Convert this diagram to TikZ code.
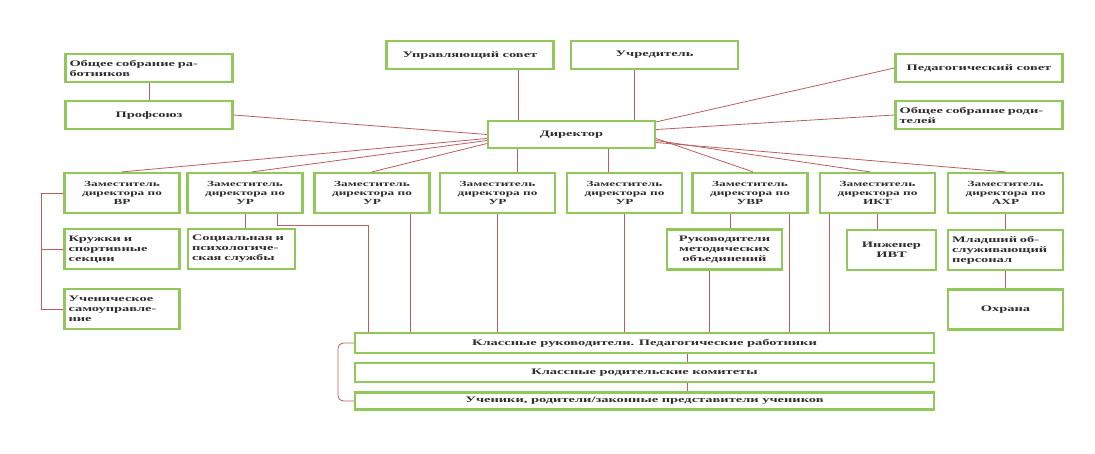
\documentclass[tikz,border=0pt]{standalone}
\usepackage{fontspec}
\newfontfamily\boxfont[FakeStretch=1.7]{Liberation Serif}
\definecolor{boxgreen}{RGB}{146,200,90}
\definecolor{linkred}{RGB}{185,95,95}
\definecolor{textgrey}{RGB}{45,45,45}
\tikzset{
	box/.style={draw=boxgreen, line width=2.2pt, fill=white, text=textgrey, inner sep=4pt, align=center},
	small/.style={font=\boxfont\bfseries\fontsize{7.8}{8.8}\selectfont},
	large/.style={font=\boxfont\bfseries\fontsize{8.5}{10}\selectfont},
	topbox/.style={box, large, minimum width=167pt, minimum height=28pt},
	deputy/.style={box, small, minimum width=115pt, minimum height=40pt},
	unit/.style={box, large, minimum width=115pt, minimum height=40pt},
	leftside/.style={align=left, text width=#1},
	rowbox/.style={box, large, minimum width=579pt, inner sep=1pt},
	link/.style={draw=linkred, line width=0.8pt}
}

\begin{document}
\begin{tikzpicture}[x=1pt, y=-1pt]
	\useasboundingbox[fill=white] (0,0) rectangle (1095,453);
	\node[topbox, leftside=159pt] (sobr) at (149,68) {Общее собрание ра-\\ботников};
	\node[topbox] (prof) at (149,115) {Профсоюз};
	\node[topbox] (usov) at (470,55) {Управляющий совет};
	\node[topbox] (uchr) at (654.5,55) {Учредитель};
	\node[topbox] (pedsov) at (979,68) {Педагогический совет};
	\node[topbox, leftside=159pt] (sobrrod) at (979,115) {Общее собрание роди-\\телей};
	\node[box, large, minimum width=167pt, minimum height=27pt] (dir) at (571.5,134.5) {Директор};
	\foreach \cx/\dept [count=\d] in {122/ВР,245/УР,372/УР,497.5/УР,624.5/УР,750/УВР,877.5/ИКТ,1005.5/АХР} {
		\node[deputy] (d\d) at (\cx,193) {Заместитель\\директора по\\\dept};
	}
	\node[unit, leftside=107pt] (kruzh) at (122,249) {Кружки и\\спортивные\\секции};
	\node[unit, leftside=99pt, minimum width=107pt] (soc) at (241.5,249) {Социальная и\\психологиче-\\ская службы};
	\node[unit, leftside=107pt] (ucheni) at (122,309) {Ученическое\\самоуправле-\\ние};
	\node[unit] (rukmet) at (724.5,249.5) {Руководители\\методических\\объединений};
	\node[unit, minimum width=89pt] (inzh) at (891.5,250) {Инженер\\ИВТ};
	\node[unit, leftside=107pt] (mlad) at (1005.5,250) {Младший об-\\служивающий\\персонал};
	\node[unit] (ohr) at (1005.5,309.5) {Охрана};
	\node[rowbox, minimum height=20pt] (klruk) at (644.5,343) {Классные руководители. Педагогические работники};
	\node[rowbox, minimum height=19pt] (klrod) at (644.5,372.5) {Классные родительские комитеты};
	\node[rowbox, minimum height=17pt] (uchrod) at (644.5,401) {Ученики, родители/законные представители учеников};

	\draw[link] (sobr) -- (prof);
	\draw[link] (prof.east) -- (dir.west);
	\draw[link] ([xshift=48pt]usov.south) -- ([xshift=48pt]usov.south |- dir.north);
	\draw[link] ([xshift=-20pt]uchr.south) -- ([xshift=-20pt]uchr.south |- dir.north);
	\draw[link] (pedsov.west) -- ([yshift=-2pt]dir.north east);
	\draw[link] (sobrrod.west) -- ([yshift=5pt]dir.east);
	\draw[link] ([yshift=-4pt]dir.west) -- (d1.north);
	\draw[link] ([yshift=-6pt]dir.west) -- ([xshift=7pt]d2.north);
	\draw[link] ([yshift=-9pt]dir.west) -- (d3.north);
	\draw[link] ([xshift=20pt]d4.north) -- ([xshift=20pt]d4.north |- dir.south);
	\draw[link] ([xshift=-16.5pt]d5.north) -- ([xshift=-16.5pt]d5.north |- dir.south);
	\draw[link] ([yshift=-4pt]dir.east) -- ([xshift=3pt]d6.north);
	\draw[link] ([yshift=-6pt]dir.east) -- ([xshift=-7.5pt]d7.north);
	\draw[link] ([yshift=-8pt]dir.east) -- (d8.north);

	\coordinate (vrbus) at ([xshift=-22pt]d1.west);
	\draw[link] (d1.west) -- (vrbus) |- (ucheni.west);
	\draw[link] (kruzh.west) -- (kruzh.west -| vrbus);
	\draw[link] (d2.south) -- (d2.south |- soc.north);
	\coordinate (urbend) at ([xshift=32pt, yshift=-11pt]d2.south);
	\draw[link] ([xshift=32pt]d2.south) -- (urbend) -| ([xshift=14pt]klruk.north west);
	\draw[link] ([xshift=38pt]d3.south) -- ([xshift=38pt]d3.south |- klruk.north);
	\draw[link] (d4.south) -- (d4.south |- klruk.north);
	\draw[link] (d5.south) -- (d5.south |- klruk.north);
	\draw[link] ([xshift=-20pt]d6.south) -- ([xshift=-20pt]d6.south |- rukmet.north);
	\draw[link] ([xshift=-15.5pt]rukmet.south) -- ([xshift=-15.5pt]rukmet.south |- klruk.north);
	\draw[link] ([xshift=39pt]d6.south) -- ([xshift=39pt]d6.south |- klruk.north);
	\draw[link] ([xshift=-48.5pt]d7.south) -- ([xshift=-48.5pt]d7.south |- klruk.north);
	\draw[link] (d7.south) -- (d7.south |- inzh.north);
	\draw[link] (d8) -- (mlad);
	\draw[link] (mlad) -- (ohr);
	\draw[link] ([xshift=42.5pt]klruk.south) -- ([xshift=42.5pt]klrod.north);
	\draw[link] ([xshift=42.5pt]klrod.south) -- ([xshift=42.5pt]uchrod.north);
	\coordinate (rowbus) at ([xshift=-16pt]klruk.west);
	\draw[link, rounded corners=6pt] (klruk.west) -- (rowbus) |- (uchrod.west);
\end{tikzpicture}
\end{document}
